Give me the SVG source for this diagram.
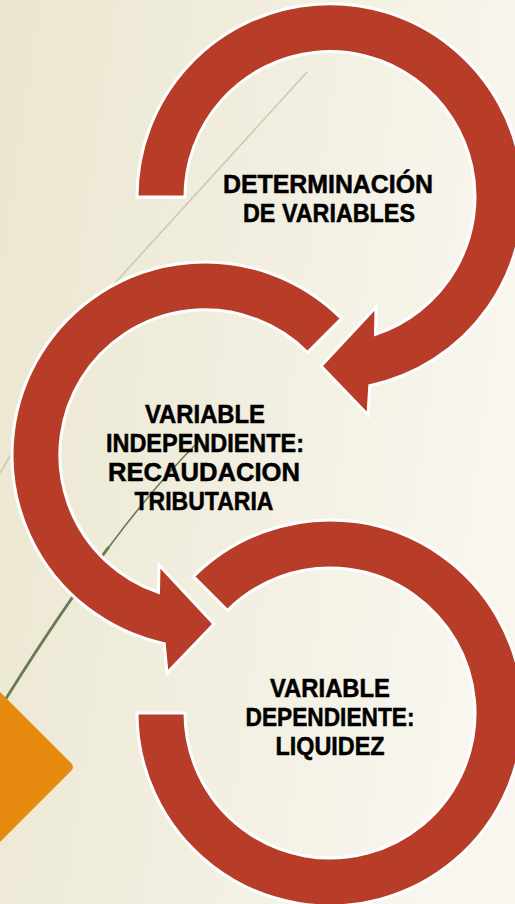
<svg xmlns="http://www.w3.org/2000/svg" width="515" height="904" viewBox="0 0 515 904">
  <defs>
    <linearGradient id="bg" x1="0" y1="0" x2="1" y2="0.25">
      <stop offset="0" stop-color="#EBE6CF"/>
      <stop offset="0.5" stop-color="#F1EEDF"/>
      <stop offset="1" stop-color="#F8F6EE"/>
    </linearGradient>
    <style>
      .arrow { fill: #B73D29; stroke: #FFFFFF; stroke-width: 3; stroke-linejoin: miter; }
      .lbl { font-family: "Liberation Sans", Arial, sans-serif; font-weight: bold; font-size: 25px; fill: #000000; stroke: #000000; stroke-width: 0.5; text-anchor: middle; }
      .faint { fill: none; stroke: #C9C8B3; stroke-width: 1.5; stroke-linejoin: round; }
      .olive { fill: none; stroke: #6A7A55; stroke-linecap: round; }
    </style>
  </defs>

  <rect width="515" height="904" fill="url(#bg)"/>

  <g id="decor">
    <path class="faint" d="M307,72 L110,288.5 L0,473"/>
    <path class="olive" stroke-width="1.6" d="M199,441 Q156.35,483.65 108.35,547.65"/>
    <path class="olive" stroke-width="2.8" d="M108.35,547.65 Q60.35,611.65 7,697 L0,708"/>
    <path d="M0,692 L71,763 Q75,767 71,771 L0,842 Z" fill="#E8890F"/>
  </g>

  <g id="connectors">
  </g>

  <g id="node-determinacion">
    <path class="arrow" d="M137,197 A193,193 0 1 1 369.8,385.6 L368,415 L321,366 L376,307 L375.5,334.3 A145,145 0 1 0 185,197 Z"/>
    <text class="lbl" x="328" y="193" textLength="210" lengthAdjust="spacingAndGlyphs">DETERMINACIÓN</text>
    <text class="lbl" x="329" y="222" textLength="172" lengthAdjust="spacingAndGlyphs">DE VARIABLES</text>
  </g>

  <g id="node-independiente">
    <path class="arrow" d="M341.5,318.5 A193,193 0 1 0 164.2,643.6 L167,673 L214,624 L159,565 L158.5,592.3 A145,145 0 1 1 307.5,352.5 Z"/>
    <text class="lbl" x="205" y="423" textLength="120" lengthAdjust="spacingAndGlyphs">VARIABLE</text>
    <text class="lbl" x="205" y="452" textLength="198" lengthAdjust="spacingAndGlyphs">INDEPENDIENTE:</text>
    <text class="lbl" x="204" y="481" textLength="192" lengthAdjust="spacingAndGlyphs">RECAUDACION</text>
    <text class="lbl" x="204" y="510" textLength="139" lengthAdjust="spacingAndGlyphs">TRIBUTARIA</text>
  </g>

  <g id="node-dependiente">
    <path class="arrow" d="M137,713 A193,193 0 1 0 193.5,576.5 L227.5,610.5 A145,145 0 1 1 185,713 Z"/>
    <text class="lbl" x="330" y="697" textLength="120" lengthAdjust="spacingAndGlyphs">VARIABLE</text>
    <text class="lbl" x="330" y="726" textLength="169" lengthAdjust="spacingAndGlyphs">DEPENDIENTE:</text>
    <text class="lbl" x="330" y="755" textLength="109" lengthAdjust="spacingAndGlyphs">LIQUIDEZ</text>
  </g>
</svg>
